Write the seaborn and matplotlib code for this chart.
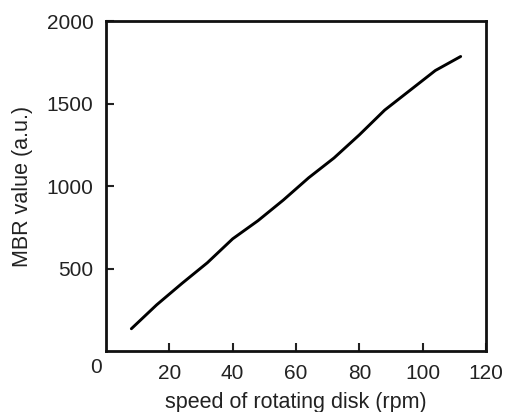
import matplotlib
matplotlib.use("Agg")
import matplotlib.pyplot as plt
import seaborn as sns
import pandas as pd

speed = [8, 16, 24, 32, 40, 48, 56, 64, 72, 80, 88, 96, 104, 112]
mbr = [135, 280, 410, 535, 680, 790, 915, 1050, 1170, 1310, 1460, 1580, 1700, 1785]
xticks = [20, 40, 60, 80, 100, 120]
yticks = [500, 1000, 1500, 2000]

sns.set_theme(style="ticks")
plt.rcParams['font.family'] = ['Liberation Sans', 'DejaVu Sans']

df = pd.DataFrame({"speed": speed, "mbr": mbr})
fig = plt.figure(figsize=(5.08, 4.12), dpi=100)
ax = fig.add_axes([0.2087, 0.148, 0.748, 0.801])
sns.lineplot(data=df, x="speed", y="mbr", ax=ax, color="black", linewidth=2.1)
ax.set_xlim(0, 120)
ax.set_ylim(0, 2000)
ax.set_xticks(xticks)
ax.set_yticks(yticks)
ax.tick_params(direction="in", length=6, width=1.5, labelsize=15, colors="#222222",
               top=False, right=False)
ax.tick_params(axis="x", pad=9)
ax.tick_params(axis="y", pad=9)
for s in ax.spines.values():
    s.set_linewidth(2.0)
    s.set_color("#111111")
ax.set_xlabel("speed of rotating disk (rpm)", fontsize=15.5, color="#222222", labelpad=7)
ax.set_ylabel("MBR value (a.u.)", fontsize=15.5, color="#222222", labelpad=10)
ax.text(-0.027, -0.02, "0", transform=ax.transAxes, fontsize=15, color="#222222",
        ha="center", va="top")
fig.savefig("out.png", dpi=100)
